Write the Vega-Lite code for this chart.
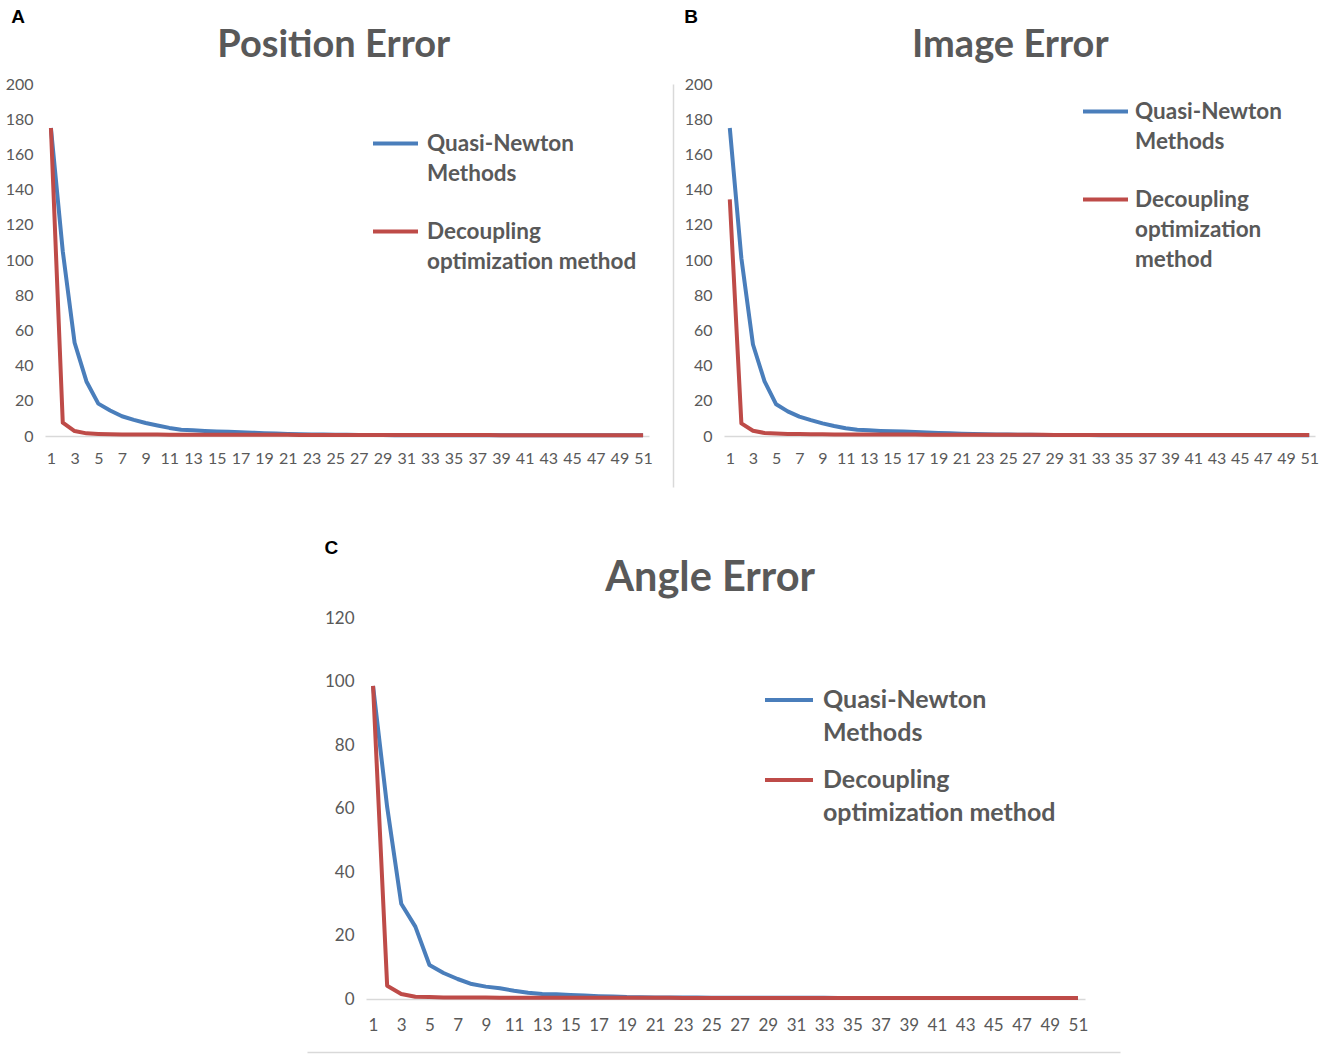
{
  "$schema": "https://vega.github.io/schema/vega-lite/v6.json",
  "padding": {"left": 5, "top": 8, "right": 5, "bottom": 0},
  "config": {
    "view": {"stroke": null},
    "font": "Lato",
    "axis": {"labelFont": "Lato", "labelColor": "#595959", "labelFontSize": 16, "ticks": false, "grid": false, "title": null},
    "axisX": {"domainColor": "#d9d9d9", "domainWidth": 1.5, "labelAngle": 0, "labelPadding": 14},
    "axisY": {"domain": false, "labelPadding": 12},
    "title": {"font": "Lato", "fontWeight": "bold", "color": "#595959", "fontSize": 38},
    "legend": {"labelFont": "Lato", "labelFontWeight": "bold", "labelColor": "#595959", "labelFontSize": 22.5, "labelOffset": 7, "symbolType": "stroke", "symbolStrokeWidth": 4, "symbolSize": 2025, "labelLimit": 400, "rowPadding": 22}
  },
  "resolve": {"scale": {"color": "independent"}, "legend": {"color": "independent"}},
  "datasets": {
    "t": [
      {"i": 1, "pq": 175, "pd": 175, "iq": 175, "id": 134.5, "aq": 98.6, "ad": 98.6},
      {"i": 2, "pq": 105, "pd": 7.6, "iq": 101, "id": 7.2, "aq": 60.5, "ad": 4.2},
      {"i": 3, "pq": 53, "pd": 2.8, "iq": 52, "id": 3.0, "aq": 30, "ad": 1.6},
      {"i": 4, "pq": 31, "pd": 1.5, "iq": 31, "id": 1.7, "aq": 22.8, "ad": 0.7},
      {"i": 5, "pq": 18.4, "pd": 1.2, "iq": 18, "id": 1.4, "aq": 10.7, "ad": 0.6},
      {"i": 6, "pq": 14.5, "pd": 1.0, "iq": 14, "id": 1.2, "aq": 8.2, "ad": 0.5},
      {"i": 7, "pq": 11.2, "pd": 0.9, "iq": 11, "id": 1.1, "aq": 6.3, "ad": 0.5},
      {"i": 8, "pq": 9.2, "pd": 0.85, "iq": 9, "id": 1.0, "aq": 4.7, "ad": 0.45},
      {"i": 9, "pq": 7.4, "pd": 0.8, "iq": 7.2, "id": 0.95, "aq": 3.9, "ad": 0.45},
      {"i": 10, "pq": 6.0, "pd": 0.8, "iq": 5.7, "id": 0.9, "aq": 3.4, "ad": 0.4},
      {"i": 11, "pq": 4.6, "pd": 0.75, "iq": 4.4, "id": 0.9, "aq": 2.6, "ad": 0.4},
      {"i": 12, "pq": 3.6, "pd": 0.75, "iq": 3.6, "id": 0.85, "aq": 2.0, "ad": 0.4},
      {"i": 13, "pq": 3.2, "pd": 0.7, "iq": 3.2, "id": 0.85, "aq": 1.6, "ad": 0.4},
      {"i": 14, "pq": 2.9, "pd": 0.7, "iq": 2.9, "id": 0.8, "aq": 1.5, "ad": 0.4},
      {"i": 15, "pq": 2.6, "pd": 0.7, "iq": 2.7, "id": 0.8, "aq": 1.3, "ad": 0.4},
      {"i": 16, "pq": 2.4, "pd": 0.7, "iq": 2.5, "id": 0.8, "aq": 1.1, "ad": 0.38},
      {"i": 17, "pq": 2.2, "pd": 0.7, "iq": 2.3, "id": 0.8, "aq": 0.9, "ad": 0.38},
      {"i": 18, "pq": 1.9, "pd": 0.65, "iq": 2.0, "id": 0.75, "aq": 0.75, "ad": 0.38},
      {"i": 19, "pq": 1.6, "pd": 0.65, "iq": 1.7, "id": 0.75, "aq": 0.6, "ad": 0.38},
      {"i": 20, "pq": 1.4, "pd": 0.65, "iq": 1.5, "id": 0.75, "aq": 0.55, "ad": 0.36},
      {"i": 21, "pq": 1.2, "pd": 0.65, "iq": 1.3, "id": 0.7, "aq": 0.5, "ad": 0.36},
      {"i": 22, "pq": 1.0, "pd": 0.6, "iq": 1.1, "id": 0.7, "aq": 0.48, "ad": 0.36},
      {"i": 23, "pq": 0.9, "pd": 0.6, "iq": 1.0, "id": 0.7, "aq": 0.46, "ad": 0.35},
      {"i": 24, "pq": 0.8, "pd": 0.6, "iq": 0.9, "id": 0.7, "aq": 0.44, "ad": 0.35},
      {"i": 25, "pq": 0.7, "pd": 0.6, "iq": 0.8, "id": 0.7, "aq": 0.42, "ad": 0.35},
      {"i": 26, "pq": 0.65, "pd": 0.6, "iq": 0.7, "id": 0.65, "aq": 0.4, "ad": 0.35},
      {"i": 27, "pq": 0.6, "pd": 0.55, "iq": 0.65, "id": 0.65, "aq": 0.4, "ad": 0.34},
      {"i": 28, "pq": 0.55, "pd": 0.55, "iq": 0.6, "id": 0.65, "aq": 0.38, "ad": 0.34},
      {"i": 29, "pq": 0.5, "pd": 0.55, "iq": 0.55, "id": 0.6, "aq": 0.38, "ad": 0.34},
      {"i": 30, "pq": 0.48, "pd": 0.55, "iq": 0.5, "id": 0.6, "aq": 0.37, "ad": 0.34},
      {"i": 31, "pq": 0.47, "pd": 0.55, "iq": 0.5, "id": 0.6, "aq": 0.37, "ad": 0.33},
      {"i": 32, "pq": 0.46, "pd": 0.5, "iq": 0.5, "id": 0.6, "aq": 0.36, "ad": 0.33},
      {"i": 33, "pq": 0.45, "pd": 0.5, "iq": 0.48, "id": 0.6, "aq": 0.36, "ad": 0.33},
      {"i": 34, "pq": 0.45, "pd": 0.5, "iq": 0.48, "id": 0.58, "aq": 0.35, "ad": 0.33},
      {"i": 35, "pq": 0.44, "pd": 0.5, "iq": 0.47, "id": 0.58, "aq": 0.35, "ad": 0.33},
      {"i": 36, "pq": 0.44, "pd": 0.5, "iq": 0.47, "id": 0.58, "aq": 0.35, "ad": 0.32},
      {"i": 37, "pq": 0.43, "pd": 0.5, "iq": 0.46, "id": 0.57, "aq": 0.34, "ad": 0.32},
      {"i": 38, "pq": 0.43, "pd": 0.5, "iq": 0.46, "id": 0.57, "aq": 0.34, "ad": 0.32},
      {"i": 39, "pq": 0.42, "pd": 0.48, "iq": 0.45, "id": 0.57, "aq": 0.34, "ad": 0.32},
      {"i": 40, "pq": 0.42, "pd": 0.48, "iq": 0.45, "id": 0.56, "aq": 0.33, "ad": 0.32},
      {"i": 41, "pq": 0.41, "pd": 0.48, "iq": 0.44, "id": 0.56, "aq": 0.33, "ad": 0.31},
      {"i": 42, "pq": 0.41, "pd": 0.48, "iq": 0.44, "id": 0.56, "aq": 0.33, "ad": 0.31},
      {"i": 43, "pq": 0.4, "pd": 0.47, "iq": 0.43, "id": 0.55, "aq": 0.32, "ad": 0.31},
      {"i": 44, "pq": 0.4, "pd": 0.47, "iq": 0.43, "id": 0.55, "aq": 0.32, "ad": 0.31},
      {"i": 45, "pq": 0.4, "pd": 0.47, "iq": 0.42, "id": 0.55, "aq": 0.32, "ad": 0.31},
      {"i": 46, "pq": 0.39, "pd": 0.47, "iq": 0.42, "id": 0.54, "aq": 0.31, "ad": 0.3},
      {"i": 47, "pq": 0.39, "pd": 0.46, "iq": 0.42, "id": 0.54, "aq": 0.31, "ad": 0.3},
      {"i": 48, "pq": 0.39, "pd": 0.46, "iq": 0.41, "id": 0.54, "aq": 0.31, "ad": 0.3},
      {"i": 49, "pq": 0.38, "pd": 0.46, "iq": 0.41, "id": 0.53, "aq": 0.3, "ad": 0.3},
      {"i": 50, "pq": 0.38, "pd": 0.46, "iq": 0.41, "id": 0.53, "aq": 0.3, "ad": 0.3},
      {"i": 51, "pq": 0.38, "pd": 0.45, "iq": 0.4, "id": 0.53, "aq": 0.3, "ad": 0.3}
    ]
  },
  "data": {"name": "t"},
  "spacing": 51,
  "vconcat": [
    {
      "spacing": 17,
      "resolve": {"scale": {"color": "independent"}, "legend": {"color": "independent"}},
      "hconcat": [
        {
          "title": {"text": "A", "anchor": "start", "font": "Liberation Sans", "fontSize": 19, "fontWeight": "bold", "color": "#000000", "offset": 0, "dx": 6},
          "vconcat": [
            {
              "title": {"text": "Position Error", "offset": 11, "frame": "bounds", "dx": 5},
              "width": 604,
              "height": 352,
              "transform": [{"fold": ["pq", "pd"], "as": ["key", "v"]}],
              "mark": {"type": "line", "strokeWidth": 4, "strokeJoin": "round"},
              "encoding": {
                "x": {"field": "i", "type": "ordinal", "scale": {"type": "point", "padding": 0.5}, "axis": {"values": [1,3,5,7,9,11,13,15,17,19,21,23,25,27,29,31,33,35,37,39,41,43,45,47,49,51]}},
                "y": {"field": "v", "type": "quantitative", "scale": {"domain": [0, 200], "nice": false}, "axis": {"values": [0,20,40,60,80,100,120,140,160,180,200]}},
                "color": {"field": "key", "type": "nominal", "scale": {"domain": ["pq", "pd"], "range": ["#4a7ebb", "#be4b48"]},
                  "legend": {"title": null, "orient": "none", "legendX": 326, "legendY": 35,
                    "encode": {"labels": {"update": {"lineHeight": {"value": 30}}}},
                    "labelExpr": "datum.label == 'pq' ? ['Quasi-Newton', 'Methods'] : ['Decoupling', 'optimization method']"}}
              }
            }
          ]
        },
        {
          "spacing": 7,
          "resolve": {"scale": {"color": "independent"}, "legend": {"color": "independent"}},
          "hconcat": [
            {
              "width": 1,
              "height": 403,
              "data": {"values": [{"v": 0}]},
              "mark": {"type": "point", "opacity": 0},
              "encoding": {"y": {"field": "v", "type": "quantitative", "axis": {"domain": true, "domainColor": "#d9d9d9", "domainWidth": 1.5, "labels": false, "ticks": false, "grid": false, "title": null}}}
            },
            {
              "title": {"text": "B", "anchor": "start", "font": "Liberation Sans", "fontSize": 19, "fontWeight": "bold", "color": "#000000", "offset": 0},
              "vconcat": [
                {
                  "title": {"text": "Image Error", "offset": 11, "frame": "bounds", "dx": 9},
                  "width": 591,
                  "height": 352,
                  "transform": [{"fold": ["iq", "id"], "as": ["key", "v"]}],
                  "mark": {"type": "line", "strokeWidth": 4, "strokeJoin": "round"},
                  "encoding": {
                    "x": {"field": "i", "type": "ordinal", "scale": {"type": "point", "padding": 0.5}, "axis": {"values": [1,3,5,7,9,11,13,15,17,19,21,23,25,27,29,31,33,35,37,39,41,43,45,47,49,51]}},
                    "y": {"field": "v", "type": "quantitative", "scale": {"domain": [0, 200], "nice": false}, "axis": {"values": [0,20,40,60,80,100,120,140,160,180,200]}},
                    "color": {"field": "key", "type": "nominal", "scale": {"domain": ["iq", "id"], "range": ["#4a7ebb", "#be4b48"]},
                      "legend": {"title": null, "orient": "none", "legendX": 357, "legendY": 3, "labelOffset": 5,
                        "encode": {"labels": {"update": {"lineHeight": {"value": 30}}}},
                        "labelExpr": "datum.label == 'iq' ? ['Quasi-Newton', 'Methods'] : ['Decoupling', 'optimization', 'method']"}}
                  }
                }
              ]
            }
          ]
        }
      ]
    },
    {
      "spacing": 16,
      "vconcat": [
        {
          "spacing": 20,
          "resolve": {"scale": {"color": "independent"}, "legend": {"color": "independent"}},
          "hconcat": [
            {
              "width": 259,
              "height": 10,
              "data": {"values": []},
              "mark": "rule",
              "encoding": {}
            },
            {
              "title": {"text": "C", "anchor": "start", "font": "Liberation Sans", "fontSize": 19, "fontWeight": "bold", "color": "#000000", "offset": 0},
              "vconcat": [
                {
                  "title": {"text": "Angle Error", "offset": 10, "frame": "bounds", "dx": 4, "fontSize": 41.5},
                  "width": 719,
                  "height": 381,
                  "transform": [{"fold": ["aq", "ad"], "as": ["key", "v"]}],
                  "mark": {"type": "line", "strokeWidth": 4, "strokeJoin": "round"},
                  "encoding": {
                    "x": {"field": "i", "type": "ordinal", "scale": {"type": "point", "padding": 0.5}, "axis": {"labelFontSize": 17, "labelPadding": 18, "values": [1,3,5,7,9,11,13,15,17,19,21,23,25,27,29,31,33,35,37,39,41,43,45,47,49,51]}},
                    "y": {"field": "v", "type": "quantitative", "scale": {"domain": [0, 120], "nice": false}, "axis": {"labelFontSize": 17, "values": [0,20,40,60,80,100,120]}},
                    "color": {"field": "key", "type": "nominal", "scale": {"domain": ["aq", "ad"], "range": ["#4a7ebb", "#be4b48"]},
                      "legend": {"title": null, "orient": "none", "legendX": 397, "legendY": 56, "labelFontSize": 25, "labelOffset": 8, "rowPadding": 8, "symbolSize": 2304,
                        "encode": {"labels": {"update": {"lineHeight": {"value": 33}}}},
                        "labelExpr": "datum.label == 'aq' ? ['Quasi-Newton', 'Methods'] : ['Decoupling', 'optimization method']"}}
                  }
                }
              ]
            }
          ]
        },
        {
          "spacing": 20,
          "hconcat": [
            {
              "width": 242,
              "height": 1,
              "data": {"values": []},
              "mark": "rule",
              "encoding": {}
            },
            {
              "width": 813,
              "height": 1,
              "data": {"values": [{"v": 0}]},
              "mark": {"type": "point", "opacity": 0},
              "encoding": {"x": {"field": "v", "type": "quantitative", "axis": {"orient": "top", "domain": true, "domainColor": "#d9d9d9", "domainWidth": 1.5, "labels": false, "ticks": false, "grid": false, "title": null}}}
            }
          ]
        }
      ]
    }
  ]
}
